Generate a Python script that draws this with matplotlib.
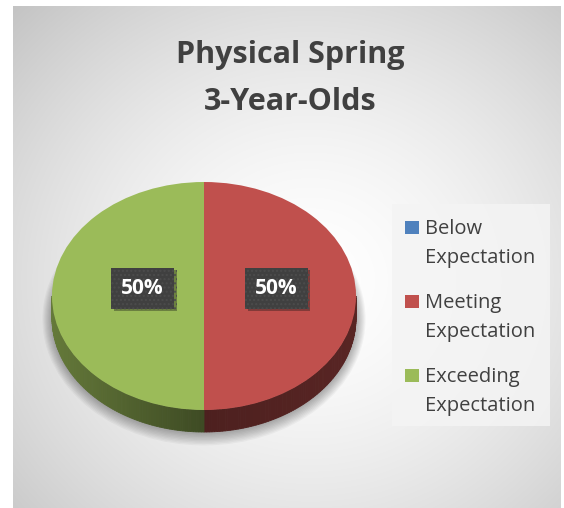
import numpy as np
import matplotlib.pyplot as plt
from matplotlib.patches import Rectangle, Polygon, Ellipse
import matplotlib.patheffects as pe

categories = ['Below Expectation', 'Meeting Expectation', 'Exceeding Expectation']
values = [0, 50, 50]
colors = ['#4F81BD', '#C0504D', '#9BBB59']
title_lines = ['Physical Spring', '3-Year-Olds']

W, H = 564, 508
plt.rcParams['font.family'] = ['Open Sans', 'DejaVu Sans']

fig = plt.figure(figsize=(W / 100, H / 100), dpi=100)
fig.patch.set_facecolor('white')

# background axes in pixel coords (y down)
bg = fig.add_axes([0, 0, 1, 1])
bg.axis('off')

# radial gradient panel
px0, px1, py0, py1 = 13, 561, 6, 508
xx, yy = np.meshgrid(np.arange(px0, px1), np.arange(py0, py1))
d = np.sqrt(((xx - 310) / 300.) ** 2 + ((yy - 280) / 280.) ** 2)
v = np.clip(255 - 35 * d ** 1.6, 185, 255) / 255.
bg.imshow(np.dstack([v, v, v]), extent=[px0, px1, py1, py0], aspect='auto',
          interpolation='bilinear', zorder=0)
bg.set_xlim(0, W)
bg.set_ylim(H, 0)

# title
tc = '#404040'
bg.text(290, 63, title_lines[0], ha='center', va='baseline', fontsize=22,
        fontweight='bold', color=tc)
bg.text(290, 110, title_lines[1], ha='center', va='baseline', fontsize=22,
        fontweight='bold', color=tc)

# legend
bg.add_patch(Rectangle((392, 204), 158, 222, fc='#f4f4f4', ec='none', alpha=0.85, zorder=2))
for i, (cat, col) in enumerate(zip(categories, colors)):
    base = 234 + i * 74
    bg.add_patch(Rectangle((405, base - 13), 14, 13, fc=col, ec='none', zorder=3))
    for j, part in enumerate(cat.split(' ')):
        bg.text(425, base + j * 29, part, ha='left', va='baseline', fontsize=14.5,
                color=tc, zorder=3)

# pie (3D look)
cx, cy, a, b, depth = 204, 296, 152, 114, 22
dd = depth / b
xl = (-1.1, 1.1)
yl = (-1 - dd - 0.15, 1.05)
left_px, right_px = cx + xl[0] * a, cx + xl[1] * a
top_px, bot_px = cy - yl[1] * b, cy - yl[0] * b
ax = fig.add_axes([left_px / W, 1 - bot_px / H, (right_px - left_px) / W, (bot_px - top_px) / H])
wedges, _ = ax.pie(values, colors=colors, startangle=90, counterclock=False, radius=1,
                   wedgeprops=dict(linewidth=0, zorder=5))
ax.set_aspect('auto')
ax.set_xlim(xl)
ax.set_ylim(yl)
ax.axis('off')
ax.patch.set_visible(False)

# soft shadow under the pie
for k in range(10):
    ax.add_patch(Ellipse((0, -dd - 0.01), 2 * (1.0 + 0.007 * k), 2 * (1.0 + 0.012 * k),
                         color='black', alpha=0.035, lw=0, zorder=1))

# side walls
for w, col in zip(wedges, colors):
    rgb = np.array(plt.matplotlib.colors.to_rgb(col))
    for t0 in np.arange(w.theta1, w.theta2, 1.0):
        t1 = min(t0 + 1.0, w.theta2)
        tm = np.deg2rad((t0 + t1) / 2)
        if np.sin(tm) > 0:
            continue
        c = np.cos(tm)
        f = 0.40 + 0.25 * max(-c, 0) + 0.06 * max(c, 0)
        ts = np.deg2rad([t0, t1])
        pts = [(np.cos(ts[0]), np.sin(ts[0])), (np.cos(ts[1]), np.sin(ts[1])),
               (np.cos(ts[1]), np.sin(ts[1]) - dd), (np.cos(ts[0]), np.sin(ts[0]) - dd)]
        sc = rgb * f
        ax.add_patch(Polygon(pts, closed=True, fc=sc, ec=sc, lw=0.6, zorder=3))

# data labels
total = sum(values)
for w, val in zip(wedges, values):
    if val == 0:
        continue
    mid = np.deg2rad((w.theta1 + w.theta2) / 2)
    x = 0.44 * np.cos(mid) + 0.035
    y = 0.44 * np.sin(mid) + 0.07
    t = ax.text(x, y, f'{val / total * 100:.0f}%', ha='center', va='center',
                fontsize=15, fontweight='bold', color='white', zorder=10,
                bbox=dict(boxstyle='square,pad=0.48', fc='#404040', ec='#4c4c4c',
                          lw=0, hatch='....'))
    t.get_bbox_patch().set_path_effects([pe.SimplePatchShadow(offset=(2, -2), alpha=0.35),
                                         pe.Normal()])

fig.savefig('out.png', dpi=100)
